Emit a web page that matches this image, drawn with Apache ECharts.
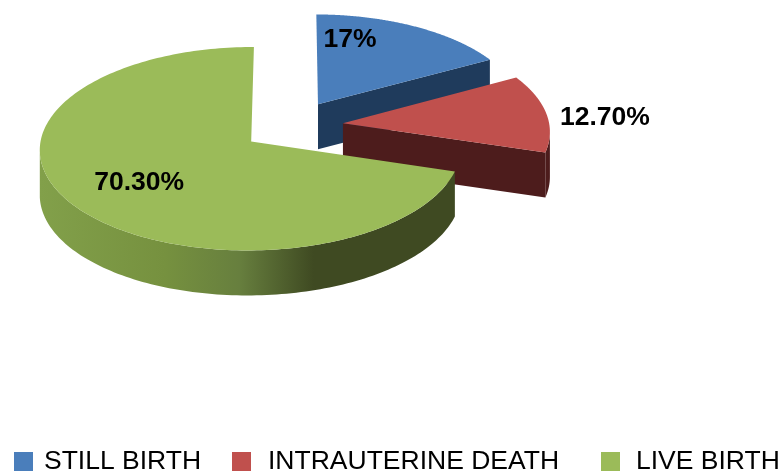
<!DOCTYPE html>
<html>
<head>
<meta charset="utf-8">
<style>html,body{margin:0;padding:0;background:#fff}#c{width:783px;height:472px}</style>
<script src="https://cdn.jsdelivr.net/npm/echarts@6/dist/echarts.min.js"></script>
</head>
<body>
<div id="c"></div>
<script>
const categories = ['STILL BIRTH', 'INTRAUTERINE DEATH', 'LIVE BIRTH'];
const values = [17, 12.7, 70.3];
const labels = ['17%', '12.70%', '70.30%'];

const topColors = ['#4a7ebb', '#c0504d', '#9bbb59'];
const sideColors = ['#1f3b5c', '#4d1c1c', {
  type: 'linear', x: 0, y: 0, x2: 1, y2: 0, global: false,
  colorStops: [
    {offset: 0, color: '#82a04a'}, {offset: 0.3, color: '#76913f'},
    {offset: 0.48, color: '#677f3e'}, {offset: 0.66, color: '#3f4a22'}, {offset: 1, color: '#3f4a22'}
  ]
}];
const labelOffsets = [[32, -65], [262, -6], [-112, 41.5]];
const legendLeft = [14, 232, 601];
const legendTextGap = [6, 12, 11];

const view = {cx: 292.5, cy: 126, rx: 207.5, ry: 99, depth: 45, explodeX: 0.245, explodeY: 0.26, persp: 0.07, yaw: 0.003};
const total = values.reduce((a, b) => a + b, 0);

function project(U, V) {
  const w = 1 + view.persp * V + view.yaw * U;
  return [view.cx + view.rx * U / w, view.cy - view.ry * V / w];
}
const down = p => [p[0], p[1] + view.depth];

function renderSlice(i, api) {
  const before = values.slice(0, i).reduce((a, b) => a + b, 0);
  const a0 = before / total * 2 * Math.PI;
  const a1 = (before + api.value(0)) / total * 2 * Math.PI;
  const mid = (a0 + a1) / 2;
  const ox = Math.sin(mid) * view.explodeX, oy = Math.cos(mid) * view.explodeY;
  const apex = project(ox, oy);
  const arc = [];
  const n = 200;
  for (let k = 0; k <= n; k++) {
    const t = a0 + (a1 - a0) * k / n;
    arc.push(project(ox + Math.sin(t), oy + Math.cos(t)));
  }
  const side = sideColors[i];
  const solid = typeof side === 'string' ? side : '#3f4a22';
  const poly = (pts, fill) => ({type: 'polygon', shape: {points: pts}, style: {fill: fill, stroke: null}});
  const children = [];
  // outer wall: only the stretch of rim that faces the viewer (x decreasing clockwise)
  const front = arc.filter((p, k) => k < n ? arc[k + 1][0] < p[0] : arc[k - 1][0] > p[0]);
  if (front.length > 1) children.push(poly(front.concat(front.slice().reverse().map(down)), side));
  const start = arc[0], end = arc[n];
  if (start[0] - apex[0] < -10) children.push(poly([apex, start, down(start), down(apex)], solid));
  if (end[0] - apex[0] > 10) children.push(poly([apex, end, down(end), down(apex)], solid));
  children.push(poly([apex].concat(arc), topColors[i]));
  children.push({
    type: 'text', z2: 10,
    style: {
      x: apex[0] + labelOffsets[i][0], y: apex[1] + labelOffsets[i][1],
      text: labels[i], fill: '#000', align: 'center', verticalAlign: 'middle',
      font: 'bold 26.5px "Liberation Sans", Arial, sans-serif'
    }
  });
  return {type: 'group', children: children};
}

const chart = echarts.init(document.getElementById('c'), null, {renderer: 'canvas'});
chart.setOption({
  animation: false,
  backgroundColor: '#fff',
  legend: categories.map((name, i) => ({
    data: [name], left: legendLeft[i], top: 448, icon: 'rect', itemWidth: 19, itemHeight: 19,
    selectedMode: false, padding: 0,
    textStyle: {
      fontFamily: '"Liberation Sans", Arial, sans-serif', fontSize: 26.5, color: '#000',
      padding: [2, 0, 0, legendTextGap[i]]
    }
  })),
  series: categories.map((name, i) => ({
    type: 'custom', name: name, coordinateSystem: 'none', z: i + 1, silent: true,
    itemStyle: {color: topColors[i]},
    data: [values[i]],
    renderItem: (params, api) => renderSlice(i, api)
  }))
});
</script>
</body>
</html>
